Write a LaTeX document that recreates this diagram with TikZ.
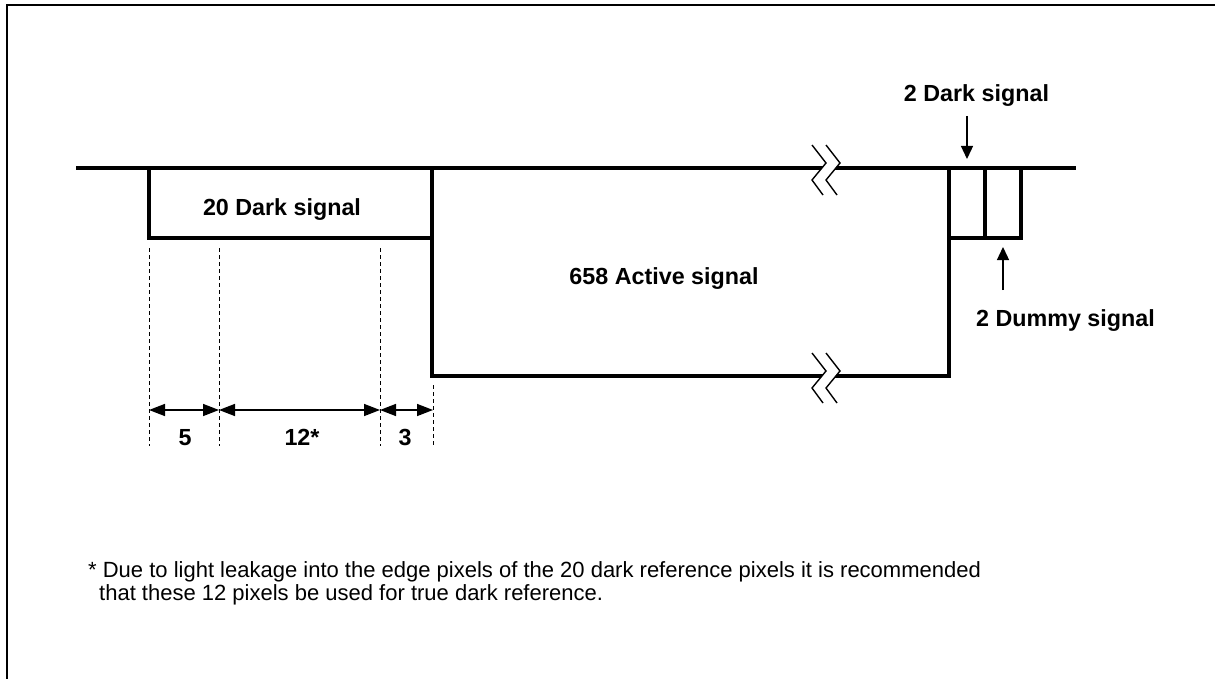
\documentclass[tikz,border=0pt]{standalone}
\usepackage{fontspec}
\setmainfont{Liberation Sans}
\usetikzlibrary{arrows.meta}
\tikzset{
  brkmark/.pic={
    \fill[white] (-6,-23) -- (8,-5) -- (-6,12) -- (5,27) -- (19,27) -- (8,12) -- (22,-5) -- (8,-23) -- cycle;
    \draw[brk] (-6,-23) -- (8,-5) -- (-6,12) -- (5,27);
    \draw[brk] (8,-23) -- (22,-5) -- (8,12) -- (19,27);
  }
}
\begin{document}
\begin{tikzpicture}[x=1pt,y=-1pt,
  wave/.style={line width=4.2pt},
  box/.style={draw, line width=4.2pt, rectangle, inner sep=0pt, outer sep=0pt, anchor=north west},
  lbl/.style={font=\fontsize{23.3}{28}\selectfont\bfseries, inner sep=0pt, anchor=base},
  note/.style={font=\fontsize{22}{26}\selectfont, inner sep=0pt, anchor=base west},
  ptr/.style={line width=1.3pt, -{Triangle[length=13pt,width=12pt]}, shorten >=9pt},
  dim/.style={line width=1.5pt, {Triangle[length=16pt,width=12pt]}-{Triangle[length=16pt,width=12pt]}},
  guide/.style={line width=1pt, dash pattern=on 4pt off 3pt},
  brk/.style={line width=1.4pt, line join=miter}
]
\useasboundingbox (0,0) rectangle (1215,679);
% frame
\draw[line width=2pt] (7,679) -- (7,5) -- (1215,5);

% boxes
\node[box, minimum width=283pt, minimum height=70pt] (dark) at (149,168) {};
\node[box, minimum width=517pt, minimum height=208pt] (active) at (432,168) {};
\node[box, minimum width=36pt, minimum height=70pt] (dk2) at (949,168) {};
\node[box, minimum width=36pt, minimum height=70pt] (dm2) at (985,168) {};

% signal line
\coordinate (wl) at (76,168);
\coordinate (wr) at (1076,168);
\draw[wave] (wl) -- (wr);

% break marks
\pic at (818,168) {brkmark};
\pic at (818,376) {brkmark};

% labels
\node[lbl] (tdark) at (282,215) {20 Dark signal};
\node[lbl] (tact) at (664,284) {658 Active signal};
\node[lbl] (tdk2) at (976.5,102) {2 Dark signal};
\node[lbl] (tdm2) at (1065.5,326) {2 Dummy signal};

% pointers
\coordinate (dkt) at (967,116);
\coordinate (dmt) at (1003,290);
\draw[ptr] (dkt) -- (dk2.north);
\draw[ptr] (dmt) -- (dm2.south);

% guides
\coordinate (g1a) at (149,248); \coordinate (g1b) at (149,446);
\coordinate (g2a) at (219,248); \coordinate (g2b) at (219,446);
\coordinate (g3a) at (380,248); \coordinate (g3b) at (380,446);
\coordinate (g4a) at (433,385); \coordinate (g4b) at (433,446);
\draw[guide] (g1a) -- (g1b);
\draw[guide] (g2a) -- (g2b);
\draw[guide] (g3a) -- (g3b);
\draw[guide] (g4a) -- (g4b);

% dimensions
\coordinate (d1) at (149,410);
\coordinate (d2) at (219,410);
\coordinate (d3) at (380,410);
\coordinate (d4) at (433,410);
\draw[dim] (d1) -- (d2);
\draw[dim] (d2) -- (d3);
\draw[dim] (d3) -- (d4);
\node[lbl] (t5) at (185,445) {5};
\node[lbl] (t12) at (302,445) {12*};
\node[lbl] (t3) at (405,445) {3};

% footnote
\node[note] (n1) at (88,577) {* Due to light leakage into the edge pixels of the 20 dark reference pixels it is recommended};
\node[note] (n2) at (99,600) {that these 12 pixels be used for true dark reference.};
\end{tikzpicture}
\end{document}
